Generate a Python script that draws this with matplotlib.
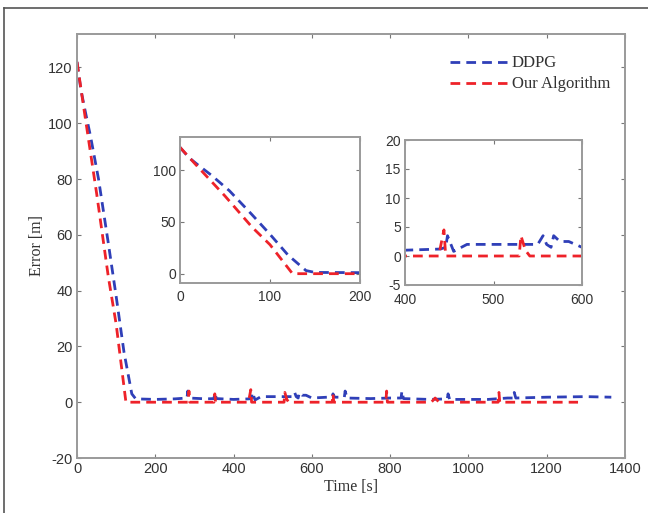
import matplotlib
matplotlib.use("Agg")
import matplotlib.pyplot as plt
from matplotlib.lines import Line2D

plt.rcParams["axes.unicode_minus"] = False

# ---- data ----
ddpg_t = [0, 10, 20, 35, 55, 80, 100, 120, 140, 150, 200, 250, 281, 283, 286,
          330, 350, 352, 356, 400, 440, 446, 448, 455, 470, 500, 530, 550, 556,
          560, 565, 568, 575, 585, 600, 640, 652, 654, 658, 683, 685, 690, 750,
          800, 828, 830, 834, 900, 946, 948, 952, 1000, 1050, 1100, 1115, 1117,
          1121, 1200, 1300, 1365]
ddpg_v = [122, 112, 105, 95, 80, 57, 38, 18, 3, 1.2, 1.0, 1.2, 1.5, 4.0, 1.5,
          1.2, 1.3, 3.5, 1.3, 1.0, 1.2, 1.5, 3.5, 0.8, 2.0, 2.0, 2.0, 2.0, 3.5,
          2.0, 1.5, 3.5, 2.5, 2.5, 1.5, 1.8, 2.0, 3.0, 1.8, 1.8, 4.0, 1.5, 1.3,
          1.5, 1.5, 4.0, 1.3, 1.0, 1.2, 3.0, 1.0, 1.0, 1.0, 1.5, 1.5, 3.5,
          1.5, 1.8, 2.0, 1.8]

ours_t = [0, 20, 50, 80, 100, 125, 200, 284, 286, 288, 350, 352, 354, 438,
          444, 446, 520, 529, 531, 536, 541, 600, 652, 654, 656, 789, 791, 793,
          905, 915, 925, 1076, 1078, 1080, 1280]
ours_v = [122, 103, 75, 45, 28, 0, 0, 0, 4.0, 0, 0, 3.0, 0, 0,
          4.5, 0, 0, 0, 3.5, 1.0, 0, 0, 0, 3.0, 0, 0, 4.0, 0,
          0, 1.5, 0, 0, 3.5, 0, 0]

labels = ["DDPG", "Our Algorithm"]
main_xticks = [0, 200, 400, 600, 800, 1000, 1200, 1400]
main_yticks = [-20, 0, 20, 40, 60, 80, 100, 120]
in1_xticks = [0, 100, 200]
in1_yticks = [0, 50, 100]
in2_xticks = [400, 500, 600]
in2_yticks = [-5, 0, 5, 10, 15, 20]

blue = "#2f3fb8"
red = "#ee2229"
spine_c = "#9a9a9a"
txt_c = "#333333"
sans = ["Liberation Sans", "DejaVu Sans"]
serif = ["Liberation Serif", "DejaVu Serif"]

fig = plt.figure(figsize=(6.48, 5.13), dpi=100)

# frame border (top and left as in the reference crop)
fig.add_artist(Line2D([4 / 648, 1.0], [1 - 8 / 513, 1 - 8 / 513],
                      transform=fig.transFigure, color="#555555", lw=1.2))
fig.add_artist(Line2D([4 / 648, 4 / 648], [0, 1 - 8 / 513],
                      transform=fig.transFigure, color="#555555", lw=1.2))


def style(ax, fs, xpad=3):
    for s in ax.spines.values():
        s.set_color(spine_c)
        s.set_linewidth(1.4)
    ax.tick_params(direction="in", top=True, right=True, length=3,
                   width=0.8, color="#777777", labelsize=fs,
                   labelcolor=txt_c, pad=3)
    ax.tick_params(axis="x", pad=xpad)
    for lab in ax.get_xticklabels() + ax.get_yticklabels():
        lab.set_family(sans)


dash = (0, (3.5, 2.2))

ax = fig.add_axes([77 / 648, 1 - 458 / 513, 548 / 648, 424 / 513])
ax.plot(ddpg_t, ddpg_v, color=blue, lw=2.0, linestyle=dash, label=labels[0])
ax.plot(ours_t, ours_v, color=red, lw=2.0, linestyle=dash, label=labels[1])
ax.set_xlim(0, 1400)
ax.set_ylim(-20, 132)
ax.set_xticks(main_xticks)
ax.set_yticks(main_yticks)
style(ax, 10.5)
ax.set_xlabel("Time [s]", family=serif, fontsize=11.5, color=txt_c, labelpad=2)
ax.set_ylabel("Error [m]", family=serif, fontsize=11.5, color=txt_c, labelpad=2)
leg = ax.legend(loc="upper right", frameon=False, handlelength=3.4,
                handletextpad=0.3, labelspacing=0.3,
                prop={"family": serif, "size": 12},
                bbox_to_anchor=(1.0, 0.985))
for t in leg.get_texts():
    t.set_color(txt_c)

ax1 = fig.add_axes([180 / 648, 1 - 283 / 513, 180 / 648, 146 / 513])
ax1.plot(ddpg_t, ddpg_v, color=blue, lw=2.0, linestyle=dash)
ax1.plot(ours_t, ours_v, color=red, lw=2.0, linestyle=dash)
ax1.set_xlim(0, 200)
ax1.set_ylim(-9, 132)
ax1.set_xticks(in1_xticks)
ax1.set_yticks(in1_yticks)
style(ax1, 10, xpad=5)

ax2 = fig.add_axes([405 / 648, 1 - 285 / 513, 177 / 648, 145 / 513])
ax2.plot(ddpg_t, ddpg_v, color=blue, lw=2.0, linestyle=dash)
ax2.plot(ours_t, ours_v, color=red, lw=2.0, linestyle=dash)
ax2.set_xlim(400, 600)
ax2.set_ylim(-5, 20)
ax2.set_xticks(in2_xticks)
ax2.set_yticks(in2_yticks)
style(ax2, 10, xpad=6)

fig.savefig("out.png", dpi=100)
